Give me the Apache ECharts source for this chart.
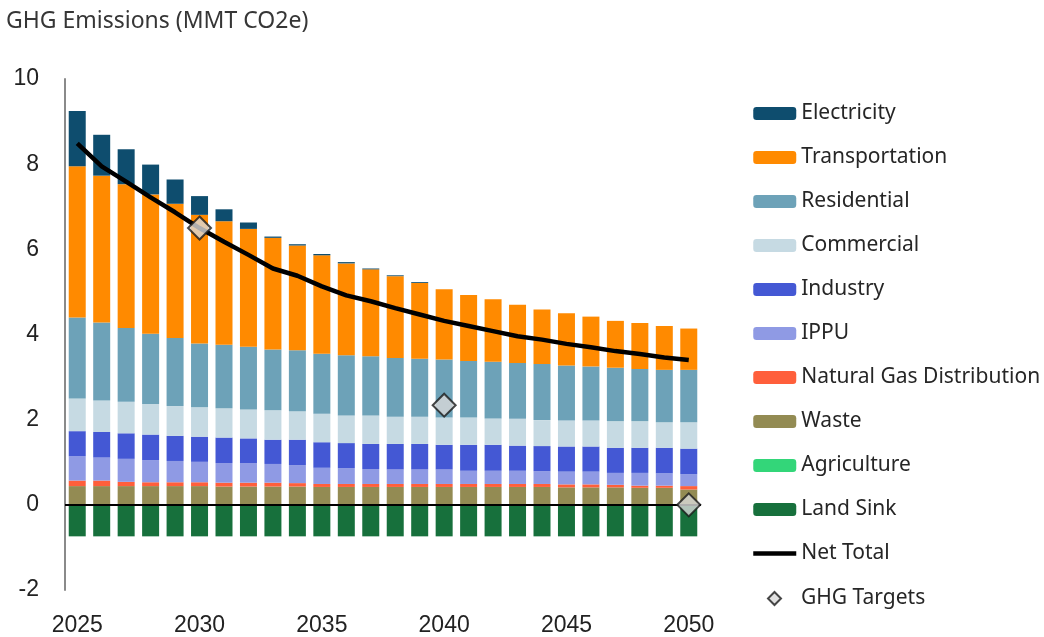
<!DOCTYPE html>
<html>
<head>
<meta charset="utf-8">
<script src="https://cdn.jsdelivr.net/npm/echarts@6/dist/echarts.min.js"></script>
<style>
html,body{margin:0;padding:0;background:#fff;}
#chart{width:1044px;height:637px;}
</style>
</head>
<body>
<div id="chart"></div>
<script>
const years = ['2025','2026','2027','2028','2029','2030','2031','2032','2033','2034','2035','2036','2037','2038','2039','2040','2041','2042','2043','2044','2045','2046','2047','2048','2049','2050'];
const electricity    = [1.30,0.96,0.82,0.70,0.57,0.44,0.28,0.15,0.03,0.03,0.03,0.03,0.02,0.02,0.02,0,0,0,0,0,0,0,0,0,0,0];
const transportation = [3.55,3.45,3.38,3.27,3.15,3.02,2.90,2.77,2.62,2.46,2.31,2.16,2.04,1.92,1.78,1.65,1.55,1.47,1.37,1.28,1.23,1.17,1.10,1.08,1.03,0.97];
const residential    = [1.90,1.83,1.73,1.65,1.60,1.50,1.49,1.47,1.43,1.43,1.41,1.41,1.39,1.38,1.36,1.36,1.33,1.33,1.31,1.32,1.29,1.27,1.26,1.23,1.23,1.23];
const commercial     = [0.77,0.74,0.74,0.72,0.70,0.69,0.69,0.68,0.69,0.67,0.67,0.65,0.67,0.64,0.64,0.64,0.64,0.62,0.63,0.61,0.61,0.61,0.62,0.62,0.60,0.62];
const industry       = [0.59,0.60,0.60,0.60,0.59,0.59,0.60,0.58,0.57,0.60,0.60,0.59,0.59,0.60,0.60,0.58,0.61,0.61,0.59,0.59,0.59,0.59,0.59,0.59,0.60,0.60];
const ippu           = [0.57,0.54,0.54,0.52,0.50,0.48,0.46,0.46,0.44,0.42,0.38,0.37,0.35,0.34,0.34,0.34,0.31,0.31,0.31,0.30,0.30,0.30,0.28,0.30,0.29,0.28];
const naturalGas     = [0.13,0.13,0.10,0.09,0.09,0.09,0.09,0.09,0.09,0.08,0.07,0.07,0.07,0.07,0.07,0.07,0.07,0.07,0.07,0.07,0.07,0.07,0.06,0.05,0.05,0.08];
const waste          = [0.44,0.44,0.44,0.44,0.44,0.44,0.43,0.43,0.43,0.43,0.42,0.42,0.42,0.42,0.42,0.42,0.42,0.42,0.42,0.42,0.41,0.41,0.41,0.40,0.40,0.36];
const agriculture    = [0,0,0,0,0,0,0,0,0,0,0,0,0,0,0,0,0,0,0,0,0,0,0,0,0,0];
const landSink       = [-0.74,-0.74,-0.74,-0.74,-0.74,-0.74,-0.74,-0.74,-0.74,-0.74,-0.74,-0.74,-0.74,-0.74,-0.74,-0.74,-0.74,-0.74,-0.74,-0.74,-0.74,-0.74,-0.74,-0.74,-0.74,-0.74];
const netTotal       = [8.49,7.95,7.59,7.22,6.87,6.50,6.18,5.87,5.55,5.38,5.13,4.92,4.78,4.62,4.47,4.32,4.20,4.08,3.96,3.88,3.78,3.70,3.61,3.54,3.46,3.40];
const targetYears    = ['2030','2040','2050'];
const targetValues   = [6.5,2.34,0];
const yTicks = {min:-2, max:10, interval:2};

const legendFont = "'Noto Sans', 'Open Sans', sans-serif";
const axisFont = "'Liberation Sans', Arial, sans-serif";

function barSeries(name, data, color){
  return {name, type:'bar', stack:'total', data, barWidth:17,
    itemStyle:{color}, emphasis:{disabled:true}};
}

const series = [
  barSeries('Waste', waste, '#938B53'),
  barSeries('Natural Gas Distribution', naturalGas, '#FF5F3B'),
  barSeries('IPPU', ippu, '#8F9AE4'),
  barSeries('Industry', industry, '#4458D4'),
  barSeries('Commercial', commercial, '#C6DAE3'),
  barSeries('Residential', residential, '#6DA2B8'),
  barSeries('Transportation', transportation, '#FF8A00'),
  barSeries('Electricity', electricity, '#0E4D6E'),
  barSeries('Agriculture', agriculture, '#33D679'),
  barSeries('Land Sink', landSink, '#17703C'),
  {name:'Net Total', type:'line', data:netTotal, symbol:'none', z:5,
   lineStyle:{color:'#000', width:4.5}, itemStyle:{color:'#000'},
   markLine:{silent:true, symbol:'none', label:{show:false},
     lineStyle:{color:'#000', width:2, type:'solid'}, data:[{yAxis:0}]}},
  {name:'GHG Targets', type:'scatter', z:6,
   data: targetYears.map((y,i)=>[y,targetValues[i]]),
   symbol:'diamond', symbolSize:[23,23],
   itemStyle:{color:'#D9D9D9', borderColor:'#1a1a1a', borderWidth:2}}
];

const chart = echarts.init(document.getElementById('chart'), null, {renderer:'canvas'});
chart.setOption({
  animation:false,
  backgroundColor:'#fff',
  title:{text:'GHG Emissions (MMT CO2e)', left:6, top:10, padding:0,
    textStyle:{fontFamily:legendFont, fontSize:23, fontWeight:'normal', color:'#363636'}},
  grid:{left:65, right:343, top:79, bottom:47, containLabel:false},
  legend:[{
    orient:'vertical', left:751, top:103, padding:0, itemWidth:43, itemHeight:13, itemGap:23,
    selectedMode:false,
    textStyle:{fontFamily:legendFont, fontSize:21, color:'#262626', lineHeight:21},
    data:['Electricity','Transportation','Residential','Commercial','Industry','IPPU','Natural Gas Distribution','Waste','Agriculture','Land Sink',
      {name:'Net Total', itemStyle:{opacity:0}, lineStyle:{width:4.5, color:'#000'}}]
  },{
    orient:'vertical', left:767, top:588, padding:0, itemWidth:13, itemHeight:13,
    selectedMode:false,
    textStyle:{fontFamily:legendFont, fontSize:21, color:'#262626', lineHeight:21, padding:[0,0,0,15]},
    data:['GHG Targets']
  }],
  xAxis:{type:'category', data:years, boundaryGap:true,
    axisLine:{show:false}, axisTick:{show:false}, splitLine:{show:false},
    axisLabel:{interval:4, margin:24, fontFamily:axisFont, fontSize:23, color:'#222'}},
  yAxis:{type:'value', min:yTicks.min, max:yTicks.max, interval:yTicks.interval,
    axisLine:{show:true, onZero:false, lineStyle:{color:'#8a8a8a', width:2}},
    axisTick:{show:false}, splitLine:{show:false},
    axisLabel:{margin:26, fontFamily:axisFont, fontSize:23, color:'#222'}},
  series
});
</script>
</body>
</html>
